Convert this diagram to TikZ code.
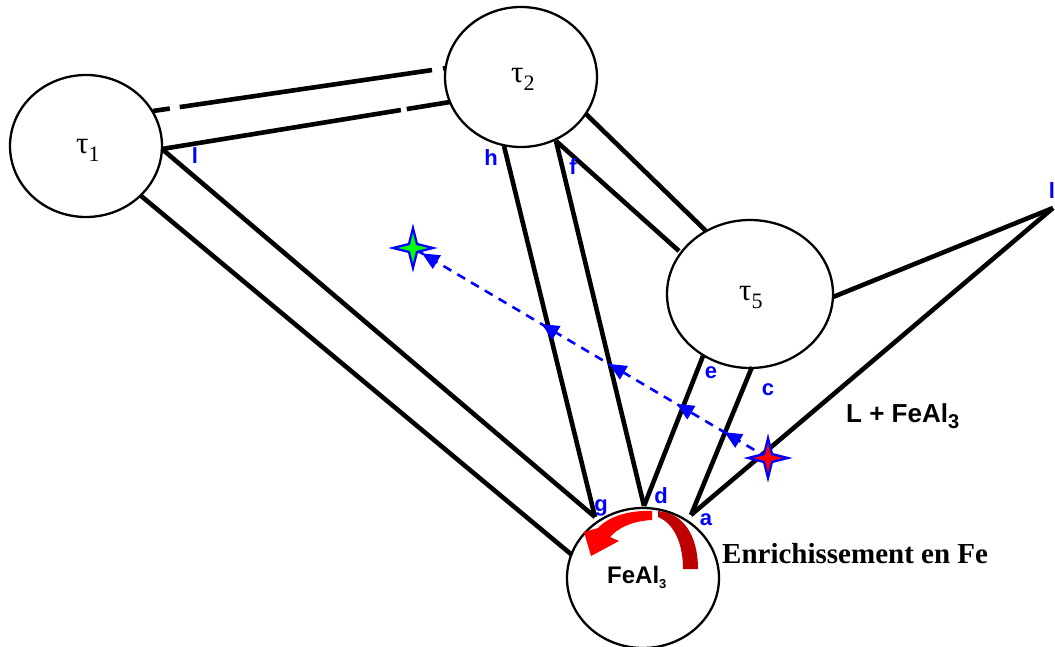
\documentclass[tikz,border=0pt]{standalone}
\usepackage{fontspec}
\setmainfont{Liberation Serif}
\newfontfamily\arialf{Liberation Sans}
\usetikzlibrary{shapes.geometric,decorations.markings}
\definecolor{pblue}{RGB}{0,0,255}
\definecolor{pred}{RGB}{255,0,0}
\definecolor{pdred}{RGB}{190,0,0}
\definecolor{pgreen}{RGB}{0,255,0}
\newcommand{\taulab}[1]{{\fontsize{31}{31}\selectfont τ}\raisebox{-8pt}{\fontsize{22}{22}\selectfont #1}}
\newcommand{\bluehead}{\fill[pblue] (5,0) -- (-12,8) -- (-12,-8) -- cycle;}
\begin{document}
\begin{tikzpicture}[x=1pt,y=-1pt,
  phase/.style={ellipse, draw, line width=2.3pt, inner sep=0pt},
  tie/.style={line width=4.6pt},
  lab/.style={text=pblue, font=\arialf\bfseries\fontsize{22}{22}\selectfont, inner sep=0pt},
  taul/.style={anchor=base west, inner sep=0pt},
  star4/.pic={\path[pic actions] (0,-20) -- (4,-4) -- (20,0) -- (4,4) -- (0,20) -- (-4,4) -- (-20,0) -- (-4,-4) -- cycle;}]
\useasboundingbox (0,0) rectangle (1055,647);
\fill[white] (0,0) rectangle (1055,647);

% phases
\node[phase, minimum width=152pt, minimum height=142pt] (t1) at (86,146) {};
\node[phase, minimum width=152pt, minimum height=140pt] (t2) at (521,77) {};
\node[phase, minimum width=166pt, minimum height=148pt] (t5) at (750,294) {};
\node[phase, minimum width=152pt, minimum height=140pt] (fe) at (643,578) {};

% junctions
\coordinate (j1a) at (153,111);
\coordinate (j2a) at (446,68);
\coordinate (j1b) at (162,149);
\coordinate (j2b) at (450,102);
\coordinate (j1c) at (140,195);
\coordinate (jg) at (595,517);
\coordinate (jfl) at (572,555);
\coordinate (jh) at (504,146);
\coordinate (jf) at (556,141);
\coordinate (jd) at (644,506);
\coordinate (j5a) at (679,251);
\coordinate (j2c) at (586,114);
\coordinate (j5b) at (706,231);
\coordinate (j5e) at (703,356);
\coordinate (j5c) at (752,367);
\coordinate (ja) at (691,515);
\coordinate (jl) at (1053,208);
\coordinate (j5r) at (833,297);

% tie lines
\draw[tie, dash pattern=on 17pt off 10pt on 255pt off 11pt on 30pt] (j1a) -- (j2a);
\draw[tie, dash pattern=on 242pt off 6pt on 60pt] (j1b) -- (j2b);
\draw[tie] (j1b) -- (jg);
\draw[tie] (j1c) -- (jfl);
\draw[tie] (jh) -- (jg);
\draw[tie] (jf) -- (jd);
\draw[tie] (jf) -- (j5a);
\draw[tie] (j2c) -- (j5b);
\draw[tie] (j5e) -- (jd);
\draw[tie] (j5c) -- (ja);
\draw[tie] (jl) -- (ja);
\draw[tie] (jl) -- (j5r);

% red curved arrow
\fill[pred] (652,511) .. controls (628,510) and (608,517) .. (598,528) -- (584,532) -- (591,556) -- (619,541) -- (610,537) .. controls (618,528) and (632,521) .. (652,520) -- cycle;
\fill[pdred] (658,511) .. controls (683,513) and (698,535) .. (698,569) -- (683,569) .. controls (683,545) and (675,524) .. (658,517) -- cycle;

% dashed path with arrows
\coordinate (rs) at (768,458);
\coordinate (gs) at (413,248);
\draw[pblue, line width=2.6pt, dash pattern=on 9pt off 7pt] (rs) -- (gs);
\path[decorate, decoration={markings,
  mark=at position 0.11 with {\bluehead},
  mark=at position 0.245 with {\bluehead},
  mark=at position 0.435 with {\bluehead},
  mark=at position 0.625 with {\bluehead},
  mark=at position 0.962 with {\bluehead}}] (rs) -- (gs);
\pic[draw=pblue, fill=pred, line width=2.2pt] at (rs) {star4};
\pic[draw=pblue, fill=pgreen, line width=2.2pt] at (gs) {star4};

% labels
\node[taul] (t1l) at (76,154) {\taulab{1}};
\node[taul] (t2l) at (511,83) {\taulab{2}};
\node[taul] (t5l) at (739,300) {\taulab{5}};
\node[anchor=base west, inner sep=0pt, font=\arialf\bfseries\fontsize{24}{24}\selectfont] (fel) at (607,583) {FeAl\raisebox{-5pt}{\fontsize{13}{13}\selectfont 3}};
\node[anchor=base west, inner sep=0pt, font=\arialf\bfseries\fontsize{26}{26}\selectfont] (lfe) at (846,422) {L + FeAl\raisebox{-6pt}{\fontsize{20}{20}\selectfont 3}};
\node[anchor=base west, inner sep=0pt, font=\bfseries\fontsize{29}{29}\selectfont] (enr) at (722,563) {Enrichissement en Fe};

\node[lab] (ll1) at (195,156) {l};
\node[lab] (lh) at (491,158) {h};
\node[lab] (lf) at (573,167) {f};
\node[lab] (lg) at (601,508) {g};
\node[lab] (ld) at (661,496) {d};
\node[lab] (la) at (706,520) {a};
\node[lab] (le) at (711,373) {e};
\node[lab] (lc) at (768,390) {c};
\node[lab] (ll2) at (1052,191) {l};
\end{tikzpicture}
\end{document}
